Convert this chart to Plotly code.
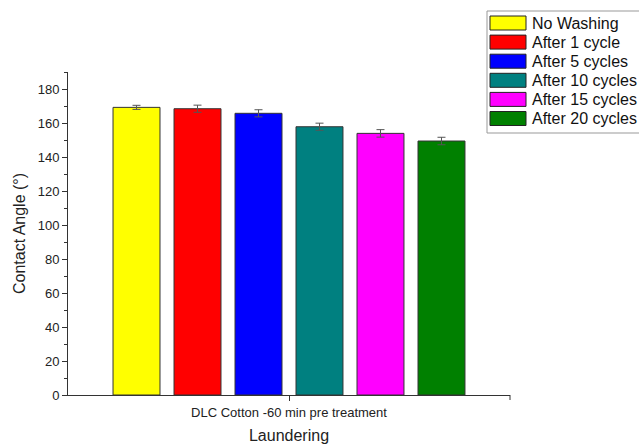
import plotly.graph_objects as go

# Contact angle after repeated laundering cycles
category = "DLC Cotton -60 min pre treatment"
labels = ["No Washing", "After 1 cycle", "After 5 cycles",
          "After 10 cycles", "After 15 cycles", "After 20 cycles"]
angles = [169.2, 168.4, 165.7, 157.8, 153.9, 149.4]
errors = [1.2, 2.1, 2.1, 2.1, 2.2, 2.2]
colors = ["#FFFF00", "#FF0000", "#0000FF", "#008080", "#FF00FF", "#008000"]

W, H = 639, 444
L, R, T, B = 68, 129, 72, 49
PW, PH = W - L - R, H - T - B
FONT = "Liberation Sans, Arial, sans-serif"


def px_x(p):
    return (p - L) / PW


def px_y(p):
    return (H - B - p) / PH


fig = go.Figure()
for lab, val, err, col in zip(labels, angles, errors, colors):
    fig.add_trace(go.Bar(
        x=[category], y=[val], name=lab,
        marker=dict(color=col, line=dict(color="#333333", width=1)),
        error_y=dict(type="data", array=[err], visible=True,
                     color="#555555", thickness=1, width=4),
        showlegend=False,
    ))

# Hand-built legend box with wide swatches
shapes = [dict(type="rect", xref="paper", yref="paper",
               x0=px_x(487), x1=px_x(645), y0=px_y(133), y1=px_y(11),
               line=dict(color="#999999", width=1), fillcolor="white")]
annotations = []
for i, (lab, col) in enumerate(zip(labels, colors)):
    yc = 23 + 19.1 * i
    shapes.append(dict(type="rect", xref="paper", yref="paper",
                       x0=px_x(490), x1=px_x(526),
                       y0=px_y(yc + 7), y1=px_y(yc - 7),
                       line=dict(color="#222222", width=1), fillcolor=col))
    annotations.append(dict(xref="paper", yref="paper", x=px_x(530), y=px_y(yc),
                            text=lab, showarrow=False, xanchor="left",
                            yanchor="middle",
                            font=dict(family=FONT, size=16, color="#111111")))

# Small end tick at the right end of the x axis
shapes.append(dict(type="line", xref="paper", yref="paper",
                   x0=1, x1=1, y0=0, y1=px_y(H - B + 5),
                   line=dict(color="#333333", width=1)))

fig.update_layout(
    width=W, height=H,
    margin=dict(l=L, r=R, t=T, b=B, pad=0),
    paper_bgcolor="white", plot_bgcolor="white",
    barmode="group", bargap=0.172, bargroupgap=0.23,
    font=dict(family=FONT, color="#222222"),
    shapes=shapes, annotations=annotations,
    xaxis=dict(
        automargin=False,
        showline=True, linecolor="#333333", linewidth=1,
        ticks="outside", ticklen=5, tickcolor="#333333",
        tickfont=dict(size=13), showgrid=False,
        title=dict(text="Laundering", font=dict(size=16), standoff=12),
    ),
    yaxis=dict(
        automargin=False,
        range=[0, 190], dtick=20, showline=True, linecolor="#333333",
        linewidth=1, ticks="outside", ticklen=5, tickcolor="#333333",
        tickfont=dict(size=13), showgrid=False, zeroline=False,
        minor=dict(dtick=10, ticks="outside", ticklen=3, tickcolor="#333333"),
        title=dict(text="Contact Angle (°)", font=dict(size=16), standoff=8),
    ),
)

fig.write_html("out.html")
